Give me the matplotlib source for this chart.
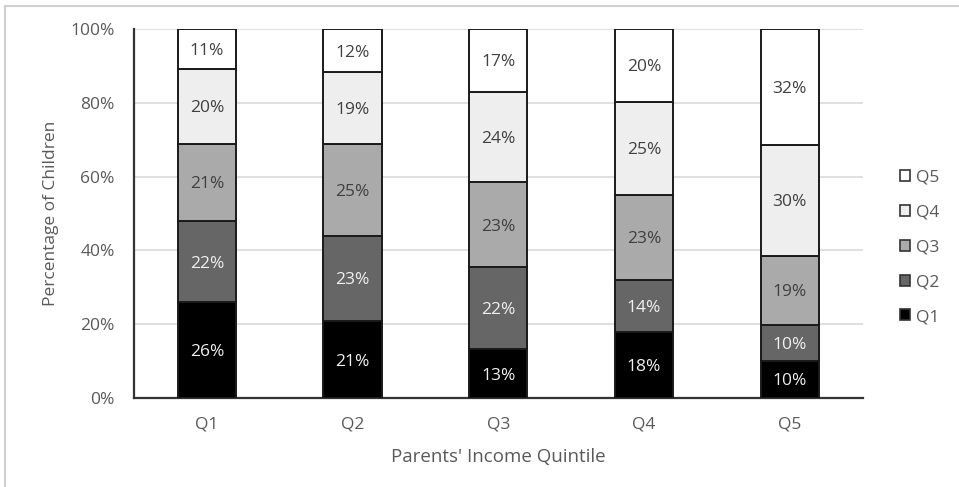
import matplotlib
matplotlib.use("Agg")
import matplotlib.pyplot as plt
from matplotlib.lines import Line2D
from matplotlib.patches import Patch
from matplotlib.ticker import PercentFormatter

plt.rcParams['font.family'] = ['Open Sans', 'DejaVu Sans']

# Parents' income quintile on the x axis, child's quintile stacked
parent_quintiles = ["Q1", "Q2", "Q3", "Q4", "Q5"]
child_q1 = [26.0, 20.9, 13.3, 18.0, 10.2]
child_q2 = [22.0, 23.1, 22.2, 14.0, 9.6]
child_q3 = [20.9, 24.9, 23.0, 23.1, 18.8]
child_q4 = [20.2, 19.3, 24.3, 25.1, 29.9]
child_q5 = [10.9, 11.8, 17.2, 19.8, 31.5]

series = [("Q1", child_q1, "#000000", "#f0f0f0"),
          ("Q2", child_q2, "#666666", "#f0f0f0"),
          ("Q3", child_q3, "#aaaaaa", "#404040"),
          ("Q4", child_q4, "#eeeeee", "#404040"),
          ("Q5", child_q5, "#ffffff", "#404040")]

fig = plt.figure(figsize=(9.59, 4.87), dpi=100)
ax = fig.add_axes([134 / 959, 1 - 398.3 / 487, (862.7 - 134) / 959, (398.3 - 28.7) / 487])

x = range(len(parent_quintiles))
bottom = [0.0] * len(parent_quintiles)
for name, vals, color, txt_color in series:
    bars = ax.bar(x, vals, 0.4, bottom=bottom, color=color, edgecolor="#1a1a1a",
                  linewidth=1.4, label=name, zorder=3)
    for bar, v, b in zip(bars, vals, bottom):
        ax.text(bar.get_x() + bar.get_width() / 2, b + v / 2, f"{v:.0f}%",
                ha="center", va="center_baseline", fontsize=12.5, color=txt_color, zorder=4)
    bottom = [b + v for b, v in zip(bottom, vals)]

ax.set_xlim(-0.5, 4.5)
ax.set_ylim(0, 100)
ax.set_yticks([0, 20, 40, 60, 80, 100])
ax.yaxis.set_major_formatter(PercentFormatter(decimals=0))
ax.set_xticks(list(x))
ax.set_xticklabels(parent_quintiles)
ax.grid(axis="y", color="#d9d9d9", linewidth=1.2, zorder=0)
ax.tick_params(length=0, labelsize=12.5, labelcolor="#595959")
ax.tick_params(axis="x", pad=13)
ax.tick_params(axis="y", pad=14)
for side in ("top", "right"):
    ax.spines[side].set_visible(False)
for side in ("left", "bottom"):
    ax.spines[side].set_color("#333333")
    ax.spines[side].set_linewidth(1.6)

ax.set_xlabel("Parents' Income Quintile", fontsize=13.5, color="#595959", labelpad=11)
ax.set_ylabel("Percentage of Children", fontsize=12.5, color="#595959", labelpad=8)

handles = [Patch(facecolor=c, edgecolor="#333333", linewidth=1.2, label=n)
           for n, _, c, _ in reversed(series)]
fig.legend(handles=handles, loc="center left", bbox_to_anchor=(884 / 959, 1 - 247.5 / 487),
           frameon=False, fontsize=12.5, labelcolor="#595959", handlelength=0.6,
           handleheight=0.6, handletextpad=0.35, labelspacing=1.08)

# light frame along the top and left edges
fig.add_artist(Line2D([5 / 959, 5 / 959], [0, 1 - 6 / 487], color="#d0d0d0", linewidth=1.5))
fig.add_artist(Line2D([5 / 959, 1], [1 - 6 / 487, 1 - 6 / 487], color="#d0d0d0", linewidth=1.5))

fig.savefig("out.png", dpi=100)
